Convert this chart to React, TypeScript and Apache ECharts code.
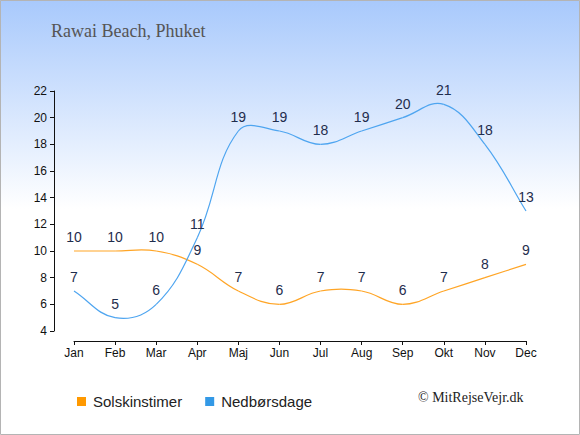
import React, { useEffect, useRef } from "react";
import * as echarts from "echarts";

const months = ["Jan", "Feb", "Mar", "Apr", "Maj", "Jun", "Jul", "Aug", "Sep", "Okt", "Nov", "Dec"];
const sunHours = [10, 10, 10, 9, 7, 6, 7, 7, 6, 7, 8, 9];
const rainDays = [7, 5, 6, 11, 19, 19, 18, 19, 20, 21, 18, 13];
const yTicks = { min: 4, max: 22, interval: 2 };
const titleText = "Rawai Beach, Phuket";
const creditText = "© MitRejseVejr.dk";
const seriesNames = ["Solskinstimer", "Nedbørsdage"];

type P = [number, number];

const SMOOTH = 0.4;

// distance-weighted cardinal smoothing (no clamping)
function controls(pts: P[], i: number) {
  const [x, y] = pts[i];
  const prev = i > 0 ? pts[i - 1] : pts[i];
  const next = i < pts.length - 1 ? pts[i + 1] : pts[i];
  const vx = next[0] - prev[0];
  const vy = next[1] - prev[1];
  const d0 = Math.hypot(x - prev[0], y - prev[1]);
  const d1 = Math.hypot(next[0] - x, next[1] - y);
  const ratio = d0 + d1 === 0 ? 0.5 : d1 / (d0 + d1);
  return {
    l: [x - vx * SMOOTH * (1 - ratio), y - vy * SMOOTH * (1 - ratio)] as P,
    r: [x + vx * SMOOTH * ratio, y + vy * SMOOTH * ratio] as P,
  };
}

function splineSeries(values: number[], color: string) {
  return {
    type: "custom",
    coordinateSystem: "cartesian2d",
    silent: true,
    z: 2,
    data: values.slice(0, -1).map((v, i) => [i, v]),
    encode: { x: 0, y: 1 },
    renderItem: (params: any, api: any) => {
      const i = params.dataIndex;
      const pts: P[] = values.map((v, k) => api.coord([k, v]) as P);
      const a = controls(pts, i);
      const b = controls(pts, i + 1);
      return {
        type: "bezierCurve",
        shape: {
          x1: pts[i][0],
          y1: pts[i][1],
          x2: pts[i + 1][0],
          y2: pts[i + 1][1],
          cpx1: a.r[0],
          cpy1: a.r[1],
          cpx2: b.l[0],
          cpy2: b.l[1],
        },
        style: { stroke: color, fill: "none", lineWidth: 1.2 },
      };
    },
  };
}

export default function App() {
  const ref = useRef<HTMLDivElement>(null);
  useEffect(() => {
    if (!ref.current) return;
    const chart = echarts.init(ref.current, undefined, { renderer: "svg" });
    const labelStyle = {
      show: true,
      position: "top" as const,
      distance: 6,
      color: "#1f2d4d",
      fontSize: 14,
      fontFamily: "Liberation Sans, Arial, sans-serif",
    };
    const labelSeries = (name: string, values: number[], color: string) => ({
      name,
      type: "line",
      data: values,
      symbol: "circle",
      symbolSize: 2,
      showSymbol: true,
      color,
      itemStyle: { color: "rgba(0,0,0,0)", borderWidth: 0 },
      lineStyle: { width: 0, color: "rgba(0,0,0,0)" },
      label: labelStyle,
      labelLayout: { hideOverlap: false },
      z: 4,
    });
    chart.setOption({
      animation: false,
      backgroundColor: new echarts.graphic.LinearGradient(0, 0, 0, 1, [
        { offset: 0, color: "#a8c9fc" },
        { offset: 0.48, color: "#ffffff" },
        { offset: 1, color: "#ffffff" },
      ]),
      grid: { left: 74, right: 54, top: 91, bottom: 104, containLabel: false },
      legend: {
        left: 72,
        top: 389,
        icon: "rect",
        itemWidth: 9,
        itemHeight: 9,
        itemGap: 23,
        textStyle: { fontSize: 15, color: "#222", fontFamily: "Liberation Sans, Arial, sans-serif", padding: [0, 0, 0, 2] },
        data: seriesNames.map((n, i) => ({ name: n, itemStyle: { color: i === 0 ? "#ff9900" : "#3399e6", opacity: 1 } })),
      },
      xAxis: {
        type: "category",
        data: months,
        boundaryGap: false,
        offset: 10,
        axisLine: { lineStyle: { color: "#111", width: 1 } },
        axisTick: { show: true, length: 4, alignWithLabel: true, lineStyle: { color: "#111" } },
        axisLabel: { color: "#111", fontSize: 12, margin: 6, fontFamily: "Liberation Sans, Arial, sans-serif" },
        splitLine: { show: false },
      },
      yAxis: {
        type: "value",
        min: yTicks.min,
        max: yTicks.max,
        interval: yTicks.interval,
        offset: 20,
        axisLine: { show: true, lineStyle: { color: "#111", width: 1 } },
        axisTick: { show: true, length: 4, lineStyle: { color: "#111" } },
        axisLabel: { color: "#111", fontSize: 12, margin: 7, fontFamily: "Liberation Sans, Arial, sans-serif" },
        splitLine: { show: false },
      },
      graphic: [
        {
          type: "rect",
          shape: { x: 0.5, y: 0.5, width: 579, height: 434 },
          style: { fill: "none", stroke: "#b4b4b4", lineWidth: 1 },
          silent: true,
        },
        {
          type: "text",
          left: 51,
          top: 22,
          style: {
            text: titleText,
            fill: "#555",
            font: "18px 'Liberation Serif', 'DejaVu Serif', serif",
          },
        },
        {
          type: "text",
          left: 418,
          top: 390,
          style: {
            text: creditText,
            fill: "#222",
            font: "14px 'Liberation Serif', 'DejaVu Serif', serif",
          },
        },
      ],
      series: [
        splineSeries(sunHours, "#ffa526"),
        splineSeries(rainDays, "#4ea5f0"),
        labelSeries(seriesNames[0], sunHours, "#ff9900"),
        labelSeries(seriesNames[1], rainDays, "#3399e6"),
      ],
    });
    return () => chart.dispose();
  }, []);
  return <div ref={ref} style={{ position: "fixed", left: 0, top: 0, width: 580, height: 435 }} />;
}
